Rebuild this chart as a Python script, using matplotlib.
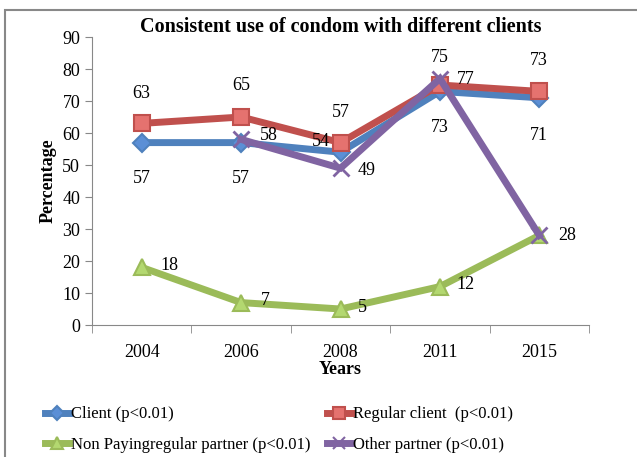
import numpy as np
import matplotlib.pyplot as plt
from matplotlib.lines import Line2D
from matplotlib.patches import Rectangle

plt.rcParams["font.family"] = ["Liberation Serif", "DejaVu Serif"]

years = ["2004", "2006", "2008", "2011", "2015"]
client = [57, 57, 54, 73, 71]
regular_client = [63, 65, 57, 75, 73]
non_paying = [18, 7, 5, 12, 28]
other_partner = [np.nan, 58, 49, 77, 28]

# pixel offsets for the value labels (dx right, dy down)
labels_pos = {
    "regular": [(0, -30), (0, -31), (0, -30), (0, -28), (0, -31)],
    "client": [(0, 36), (0, 36), (-20, -11), (0, 36), (0, 38)],
    "green": [(28, -2), (24, -2), (22, -2), (26, -2), (28, 0)],
    "other": [None, (28, -4), (26, 2), (26, 1), None],
}

fig = plt.figure(figsize=(6.37, 4.57), dpi=100)
ax = fig.add_axes([92 / 637, 1 - 325 / 457, (589 - 92) / 637, (325 - 37) / 457])

x = np.arange(len(years))
series = [
    ("Client (p<0.01)", client, "#4F81BD", "#5B8FD6", "D", 9, "client"),
    ("Regular client  (p<0.01)", regular_client, "#C0504D", "#E5726F", "s", 11, "regular"),
    ("Non Payingregular partner (p<0.01)", non_paying, "#9BBB59", "#B3D870", "^", 11, "green"),
    ("Other partner (p<0.01)", other_partner, "#8064A2", "#8064A2", "x", 11, "other"),
]

handles = []
for name, vals, col, face, mk, ms, key in series:
    ax.plot(x, vals, color=col, lw=5, marker=mk, ms=ms, mfc=face, mec=col,
            mew=1.5 if mk != "x" else 2, zorder=3, solid_joinstyle="miter")
    handles.append(Line2D([], [], color=col, lw=5, marker=mk, ms=ms * 0.8,
                          mfc=face, mec=col, mew=1.5))
    for i, v in enumerate(vals):
        off = labels_pos[key][i]
        if off is None or np.isnan(v):
            continue
        ax.annotate(f"{v:g}", (x[i], v), xytext=(off[0], -off[1]),
                    textcoords="offset pixels", ha="center", va="center",
                    fontsize=13, zorder=5)

ax.set_xlim(-0.5, len(years) - 0.5)
ax.set_ylim(0, 90)
ax.set_yticks(range(0, 91, 10))
ax.set_xticks(x)
ax.set_xticklabels(years)
ax.set_xticks(np.arange(-0.5, len(years), 1), minor=True)
ax.tick_params(axis="x", which="major", length=0, pad=14, labelsize=13)
ax.tick_params(axis="x", which="minor", length=6, color="#888888")
ax.tick_params(axis="y", length=5, color="#888888", labelsize=13)
for s in ["top", "right"]:
    ax.spines[s].set_visible(False)
for s in ["left", "bottom"]:
    ax.spines[s].set_color("#888888")

ax.set_title("Consistent use of condom with different clients",
             fontsize=14.5, fontweight="bold", pad=1)
ax.set_xlabel("Years", fontsize=13, fontweight="bold", labelpad=0)
ax.set_ylabel("Percentage", fontsize=13, fontweight="bold", labelpad=4)

# row-wise order like the original legend
order = [0, 2, 1, 3]
fig.legend([handles[i] for i in order], [series[i][0] for i in order],
           loc="lower left", bbox_to_anchor=(32 / 637, -9 / 457), ncol=2,
           frameon=False, fontsize=12, handlelength=1.4, handletextpad=0.15,
           columnspacing=1.0, labelspacing=0.85, borderpad=0.3)

fig.patches.append(Rectangle((5 / 637, -0.1), 1.2, (457 - 10) / 457 + 0.1,
                             transform=fig.transFigure, fill=False,
                             edgecolor="#888888", lw=1.5))

fig.savefig("out.png", dpi=100)
